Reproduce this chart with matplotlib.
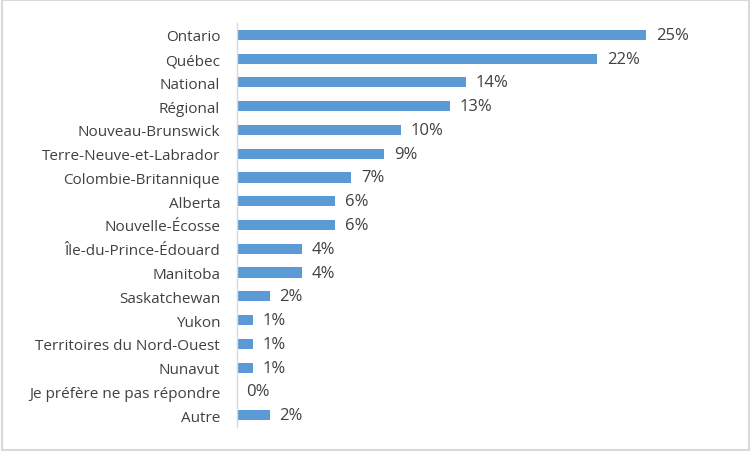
import matplotlib.pyplot as plt
from matplotlib.patches import Rectangle

categories = ["Ontario", "Québec", "National", "Régional", "Nouveau-Brunswick",
              "Terre-Neuve-et-Labrador", "Colombie-Britannique", "Alberta",
              "Nouvelle-Écosse", "Île-du-Prince-Édouard", "Manitoba",
              "Saskatchewan", "Yukon", "Territoires du Nord-Ouest", "Nunavut",
              "Je préfère ne pas répondre", "Autre"]
values = [25, 22, 14, 13, 10, 9, 7, 6, 6, 4, 4, 2, 1, 1, 1, 0, 2]

BAR = "#5b9bd5"
TEXT = "#404040"

plt.rcParams["font.family"] = ["Open Sans", "DejaVu Sans"]

fig = plt.figure(figsize=(7.52, 4.52), dpi=100)
ax = fig.add_axes([0.315, 0.053, 0.653, 0.894])

ypos = list(range(len(categories)))
ax.barh(ypos, values, height=0.43, color=BAR)
for y, v in zip(ypos, values):
    ax.annotate(f"{v}%", (v, y), xytext=(7, 0), textcoords="offset points",
                va="center", ha="left", fontsize=12, color=TEXT)

ax.set_xlim(0, 30)
ax.set_ylim(len(categories) - 0.5, -0.5)
ax.set_yticks(ypos)
ax.set_yticklabels(categories, fontsize=11, color=TEXT)
ax.tick_params(axis="y", length=0, pad=12)
ax.set_xticks([])
for side in ("top", "right", "bottom"):
    ax.spines[side].set_visible(False)
ax.spines["left"].set_color("#d9d9d9")
ax.spines["left"].set_linewidth(1)

fig.patches.append(Rectangle((0.002, 0.003), 0.994, 0.994, transform=fig.transFigure,
                             fill=False, edgecolor="#d9d9d9", linewidth=1.5))

fig.savefig("out.png", dpi=100)
